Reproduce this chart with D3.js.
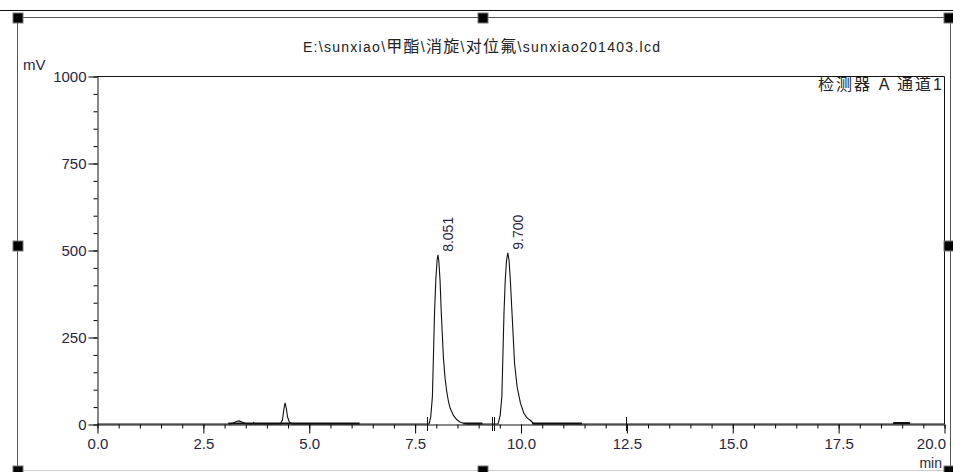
<!DOCTYPE html>
<html>
<head>
<meta charset="utf-8">
<script src="https://cdn.jsdelivr.net/npm/d3@7"></script>
<style>
  body { margin: 0; background: #fff; }
  text { font-family: "Liberation Sans", Arial, "Noto Sans CJK SC", sans-serif; }
</style>
</head>
<body>
<script>

// chromatogram trace, time (min) and signal (mV)
const traceTime = [0, 3.10, 3.15, 3.22, 3.30, 3.36, 3.42, 3.50, 3.56, 3.60, 3.68, 3.70, 3.72,
    4.33, 4.38, 4.41, 4.44, 4.47, 4.50, 4.54, 4.60, 4.65,
    7.84, 7.88, 7.92, 7.94, 7.97, 8.00, 8.03, 8.051, 8.07, 8.10, 8.13, 8.18, 8.22, 8.26, 8.30, 8.34, 8.42, 8.50, 8.57, 8.65, 8.75,
    9.47, 9.52, 9.56, 9.58, 9.61, 9.64, 9.67, 9.700, 9.73, 9.76, 9.80, 9.86, 9.92, 10.00, 10.08, 10.16, 10.24, 10.32,
    18.80, 18.82, 19.18, 19.20, 20];
const traceValue = [0, 0, 0, 3, 8, 9, 6, 2, 1, 0, 0, 4, 0,
    0, 12, 40, 61, 45, 20, 6, 1, 0,
    0, 20, 79, 174, 318, 414, 470, 486, 470, 414, 318, 190, 130, 92, 64, 45, 24, 12, 6, 2, 0,
    0, 25, 79, 174, 318, 414, 470, 492, 470, 414, 318, 174, 107, 59, 31, 17, 10, 0,
    0, 4, 4, 0, 0];

// peak labels
const peakTimes = [8.051, 9.700];
const peakHeights = [486, 492];

// integration baselines (start, end in min)
const baselineStart = [3.10, 8.65, 10.27, 18.80];
const baselineEnd = [6.20, 9.10, 11.45, 19.20];

// peak start / end markers
const markerTimes = [7.80, 9.33, 9.38, 12.50];

// axis ticks
const xMajor = [0, 2.5, 5, 7.5, 10, 12.5, 15, 17.5, 20];
const yMajor = [0, 250, 500, 750, 1000];

const titleText = "E:\\sunxiao\\甲酯\\消旋\\对位氟\\sunxiao201403.lcd";
const detectorText = "检测器 A 通道1";

function drawChart(){

    const width = 953;
    const height = 472;
    const marginLeft = 97;
    const marginRight = 9;
    const marginTop = 76;
    const marginBottom = 48;
    const textColor = "#2b2540";

    const svg = d3.create("svg")
        .attr("width", width)
        .attr("height", height)
        .attr("viewBox", [0, 0, width, height]);

    const x = d3.scaleLinear([0, 20], [marginLeft, width - marginRight]);
    const y = d3.scaleLinear([0, 1000], [height - marginBottom, marginTop]);

    // page line and the object frame
    svg.append("line")
        .attr("x1", 0).attr("x2", width).attr("y1", 10.5).attr("y2", 10.5)
        .attr("stroke", "#111");
    svg.append("path")
        .attr("d", "M17.5,470.5 V17.5 H950.5 V470.5")
        .attr("fill", "none")
        .attr("stroke", "#555");
    svg.append("line")
        .attr("x1", 17.5).attr("x2", 950.5).attr("y1", 470.5).attr("y2", 470.5)
        .attr("stroke", "#ccc");

    // plot box (top and right)
    svg.append("path")
        .attr("d", `M${marginLeft},${marginTop + 0.5} H${x(20) + 0.5} V${y(0)}`)
        .attr("fill", "none")
        .attr("stroke", "#111");

    // x axis
    const xMinor = d3.range(0, 20.01, 0.5);
    const xAxis = svg.append("g")
        .attr("transform", `translate(0.5,${y(0) + 0.5})`);
    xAxis.call(d3.axisBottom(x).tickValues(xMinor).tickSize(4).tickFormat(""))
        .call(g => g.select(".domain").remove());
    xAxis.append("g")
        .call(d3.axisBottom(x).tickValues(xMajor).tickSize(9).tickSizeOuter(0)
            .tickFormat(d3.format(".1f")))
        .call(g => g.selectAll("text")
            .attr("font-size", 15).attr("font-family", null).attr("fill", textColor).attr("dy", "0.85em"))
        .call(g => g.selectAll("text").filter(d => d == 20).attr("text-anchor", "end").attr("dx", 1))
        .call(g => g.select(".domain").attr("stroke", "#111"));

    // y axis
    const yMinor = d3.range(0, 1001, 50);
    const yAxis = svg.append("g")
        .attr("transform", `translate(${marginLeft + 0.5},0.5)`);
    yAxis.call(d3.axisLeft(y).tickValues(yMinor).tickSize(4).tickFormat(""))
        .call(g => g.select(".domain").remove());
    yAxis.append("g")
        .call(d3.axisLeft(y).tickValues(yMajor).tickSize(9).tickSizeOuter(0).tickPadding(2)
            .tickFormat(d3.format("d")))
        .call(g => g.selectAll("text")
            .attr("font-size", 15).attr("font-family", null).attr("fill", textColor))
        .call(g => g.select(".domain").attr("stroke", "#111"));

    // integration baselines, drawn bold on the trace
    svg.append("g")
        .selectAll("line")
        .data(baselineStart)
        .join("line")
        .attr("x1", d => x(d))
        .attr("x2", (d, i) => x(baselineEnd[i]))
        .attr("y1", y(0) - 0.5)
        .attr("y2", y(0) - 0.5)
        .attr("stroke", "#111")
        .attr("stroke-width", 2);

    // chromatogram trace
    const points = traceTime.map((t, i) => [t, traceValue[i]]);
    const line = d3.line()
        .x(d => x(d[0]))
        .y(d => y(d[1]));
    svg.append("path")
        .attr("fill", "none")
        .attr("stroke", "#111")
        .attr("stroke-width", 1.1)
        .attr("d", line(points));

    // peak start / end markers
    svg.append("g")
        .selectAll("line")
        .data(markerTimes)
        .join("line")
        .attr("x1", d => Math.round(x(d)) + 0.5)
        .attr("x2", d => Math.round(x(d)) + 0.5)
        .attr("y1", y(0) - 7)
        .attr("y2", y(0) + 7)
        .attr("stroke", "#111");

    // retention time labels
    svg.append("g")
        .selectAll("text")
        .data(peakTimes)
        .join("text")
        .attr("transform", (d, i) => `translate(${x(d) + 15},${y(peakHeights[i]) - 3}) rotate(-90)`)
        .attr("font-size", 14)
        .attr("fill", textColor)
        .text(d => d.toFixed(3));

    // title: latin parts plus slightly larger CJK glyphs
    const title = svg.append("text")
        .attr("x", 303).attr("y", 52)
        .attr("font-size", 14)
        .attr("textLength", 357)
        .attr("lengthAdjust", "spacing")
        .attr("fill", "#222");
    title.selectAll("tspan")
        .data(titleText.split(/([^\x00-\x7f]+)/).filter(s => s.length))
        .join("tspan")
        .attr("font-size", s => /[^\x00-\x7f]/.test(s) ? 16 : 14)
        .text(s => s);

    svg.append("text")
        .attr("x", 818).attr("y", 90)
        .attr("font-size", 16)
        .attr("textLength", 124)
        .attr("lengthAdjust", "spacing")
        .attr("fill", "#222")
        .text(detectorText);
    svg.append("text")
        .attr("x", 23).attr("y", 70)
        .attr("font-size", 15)
        .attr("fill", textColor)
        .text("mV");
    svg.append("text")
        .attr("x", 942).attr("y", 468)
        .attr("text-anchor", "end")
        .attr("font-size", 14)
        .attr("fill", textColor)
        .text("min");

    // selection handles of the frame
    const handles = [[13, 13], [478, 13], [944, 13], [13, 241], [944, 241], [13, 466], [478, 466], [944, 466]];
    svg.append("g")
        .selectAll("rect")
        .data(handles)
        .join("rect")
        .attr("x", d => d[0])
        .attr("y", d => d[1])
        .attr("width", 10)
        .attr("height", 10)
        .attr("fill", "#000")
        .attr("stroke", "#777");

    document.body.appendChild(svg.node());
}

drawChart();
</script>
</body>
</html>
